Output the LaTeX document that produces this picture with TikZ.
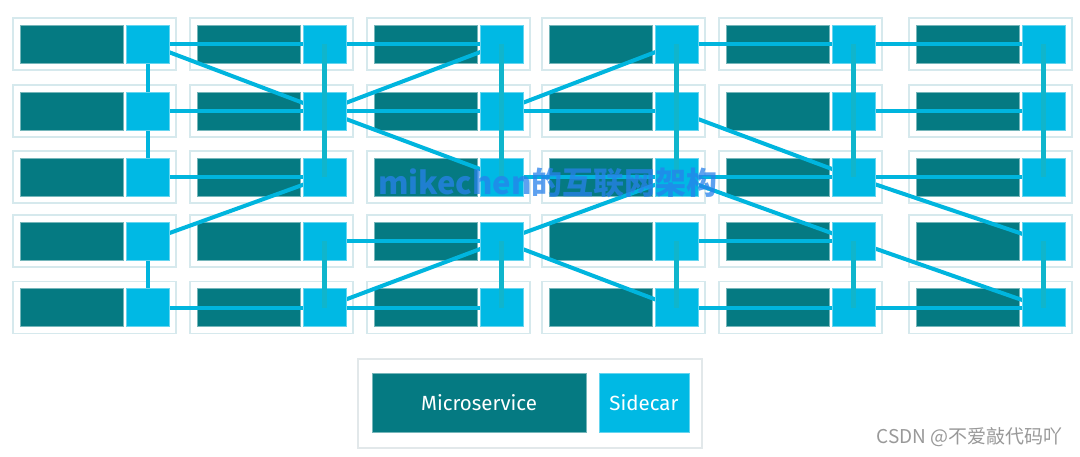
\documentclass[tikz,border=0pt]{standalone}
\usepackage{fontspec}
\setmainfont{Fira Sans}
\newfontfamily\cjk{Noto Sans CJK SC}
\usetikzlibrary{positioning}

\definecolor{msteal}{RGB}{5,122,130}
\definecolor{sidecarblue}{RGB}{0,185,228}
\definecolor{linkblue}{RGB}{0,181,222}
\definecolor{vlinkblue}{RGB}{16,181,204}
\definecolor{cellrim}{RGB}{214,233,237}
\definecolor{keyrim}{RGB}{226,232,234}
\definecolor{markblue}{RGB}{40,130,235}

\pgfdeclarelayer{bg}
\pgfdeclarelayer{links}
\pgfsetlayers{bg,links,main}

\tikzset{
  cell/.style={draw=cellrim, line width=1.5pt, fill=white, inner sep=0pt,
    minimum width=163pt, minimum height=52pt},
  micro/.style={fill=msteal, draw=msteal!55!white, line width=0.6pt, inner sep=0pt,
    minimum width=103pt, minimum height=38pt},
  sidecar/.style={fill=sidecarblue, draw=sidecarblue!60!white, line width=0.6pt, inner sep=0pt,
    minimum width=43pt, minimum height=38pt},
  link/.style={linkblue, line width=4pt},
  vlink/.style={vlinkblue, line width=4.5pt},
  keytext/.style={text=white, font=\fontsize{20.5}{24}\selectfont}
}

\begin{document}
\begin{tikzpicture}[x=1pt, y=-1pt]
\useasboundingbox (0,0) rectangle (1080,456);

% cells
\begin{pgfonlayer}{bg}
\fill[white] (0,0) rectangle (1080,456);
\foreach \r/\y in {1/44,2/111,3/177,4/241,5/307.5}
  \foreach \c/\x in {1/13,2/190,3/367,4/542,5/719,6/909} {
    \node[cell] (c\r\c) at (\x+81.5,\y) {};
    \node[micro] (m\r\c) at (\x+58.5,\y) {};
  }
\end{pgfonlayer}

\foreach \r/\y in {1/44,2/111,3/177,4/241,5/307.5}
  \foreach \c/\x in {1/13,2/190,3/367,4/542,5/719,6/909}
    \node[sidecar] (s\r\c) at (\x+134.5,\y) {};

% links between sidecars
\begin{pgfonlayer}{links}
\foreach \a/\b in {11/12,12/13,14/15,15/16, 21/22,22/23,23/24,25/26,
    31/32,33/34,34/35,35/36, 42/43,44/45, 51/52,52/53,54/55,55/56}
  \draw[link] (s\a.center) -- (s\b.center);
\foreach \a/\b in {11/22,22/13,22/33,23/14,24/35,41/32,
    52/43,43/54,43/34,34/45,35/46,45/56}
  \draw[link] (s\a.center) -- (s\b.center);
\draw[link] (s11.center) -- (s21.center) -- (s31.center);
\draw[link] (s41.center) -- (s51.center);
\end{pgfonlayer}

\foreach \c in {2,...,6} {
  \draw[vlink] (s1\c.center) -- (s2\c.center) -- (s3\c.center);
  \draw[vlink] (s4\c.center) -- (s5\c.center);
}

% key
\node[cell, draw=keyrim, minimum width=344pt, minimum height=89pt] (key) at (530,403.5) {};
\node[micro, keytext, minimum width=214pt, minimum height=59pt] (keymicro) at (479,402.5) {Microservice};
\node[sidecar, keytext, minimum width=90pt, minimum height=59pt] (keyside) at (644,402.5) {Sidecar};

% marks
\node[anchor=west, inner sep=0pt, text=markblue, opacity=0.75,
  font=\cjk\bfseries\fontsize{31}{34}\selectfont] (mark) at (378,183) {mikechen的互联网架构};
\node[anchor=east, inner sep=0pt, text=black!40,
  font=\cjk\fontsize{19}{22}\selectfont] (csdn) at (1063,437) {CSDN @不爱敲代码吖};
\end{tikzpicture}
\end{document}
